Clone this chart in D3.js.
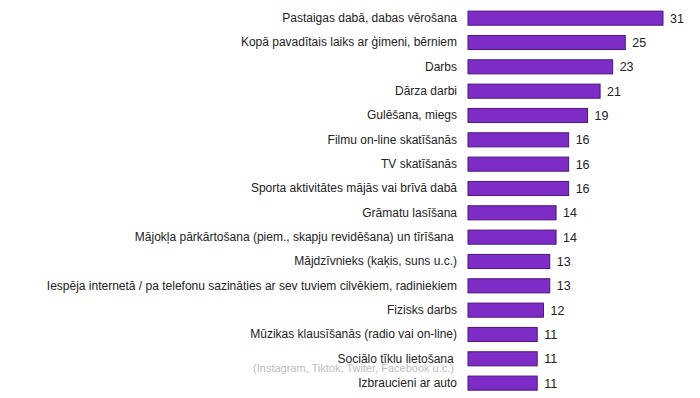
<!DOCTYPE html>
<meta charset="utf-8">
<head>
<title>Aktivitātes</title>
<style>
body { margin: 0; background: #fff; font-family: "Liberation Sans", Arial, sans-serif; }
.cat text { font-size: 12px; fill: #222; }
.val { font-size: 12.5px; fill: #222; }
.sub { font-size: 11px; fill: #bdbdbd; }
</style>
</head>
<body>
<svg width="700" height="398"></svg>
<script src="https://cdnjs.cloudflare.com/ajax/libs/d3/7.8.5/d3.min.js"></script>
<script>
const width = 700, height = 398;

var categories = [
	"Pastaigas dabā, dabas vērošana",
	"Kopā pavadītais laiks ar ģimeni, bērniem",
	"Darbs",
	"Dārza darbi",
	"Gulēšana, miegs",
	"Filmu on-line skatīšanās",
	"TV skatīšanās",
	"Sporta aktivitātes mājās vai brīvā dabā",
	"Grāmatu lasīšana",
	"Mājokļa pārkārtošana (piem., skapju revidēšana) un tīrīšana\u00a0",
	"Mājdzīvnieks (kaķis, suns u.c.)",
	"Iespēja internetā / pa telefonu sazināties ar sev tuviem cilvēkiem, radiniekiem",
	"Fizisks darbs",
	"Mūzikas klausīšanās (radio vai on-line)",
	"Sociālo tīklu lietošana\u00a0",
	"Izbraucieni ar auto"
];
var values = [31, 25, 23, 21, 19, 16, 16, 16, 14, 14, 13, 13, 12, 11, 11, 11];
var subLabels = { "Sociālo tīklu lietošana\u00a0": "(Instagram, Tiktok, Twiter, Facebook u.c.)" };

var data = categories.map(function(c, i) { return { cat: c, value: values[i] }; });

var svg = d3.select("svg");

var x = d3.scaleLinear().domain([0, 31]).range([468, 663]);
var y = d3.scaleBand().domain(categories).range([6, 395.3])
	.paddingInner(0.42).paddingOuter(0.21);

// bars
svg.append("g").selectAll("rect")
	.data(data).enter()
	.append("rect")
	.attr("x", x(0))
	.attr("y", function(d) { return y(d.cat); })
	.attr("width", function(d) { return x(d.value) - x(0); })
	.attr("height", y.bandwidth())
	.attr("fill", "#7d2cc6")
	.attr("stroke", "#4c1680")
	.attr("stroke-width", 1);

// category labels
var axis = svg.append("g")
	.attr("class", "cat")
	.attr("transform", "translate(" + x(0) + ",0)")
	.call(d3.axisLeft(y).tickSize(0).tickPadding(11));
axis.select(".domain").remove();
axis.selectAll("text").attr("font-family", null).attr("font-size", null);

// sub label under social networks
svg.append("g").selectAll("text")
	.data(data.filter(function(d) { return subLabels[d.cat]; })).enter()
	.append("text")
	.attr("class", "sub")
	.attr("x", x(0) - 14)
	.attr("y", function(d) { return y(d.cat) + y.bandwidth() / 2 + 13; })
	.attr("text-anchor", "end")
	.text(function(d) { return subLabels[d.cat]; });

// values
svg.append("g").selectAll("text")
	.data(data).enter()
	.append("text")
	.attr("class", "val")
	.attr("x", function(d) { return x(d.value) + 7; })
	.attr("y", function(d) { return y(d.cat) + y.bandwidth() / 2; })
	.attr("dy", "0.35em")
	.text(function(d) { return d.value; });
</script>
</body>
